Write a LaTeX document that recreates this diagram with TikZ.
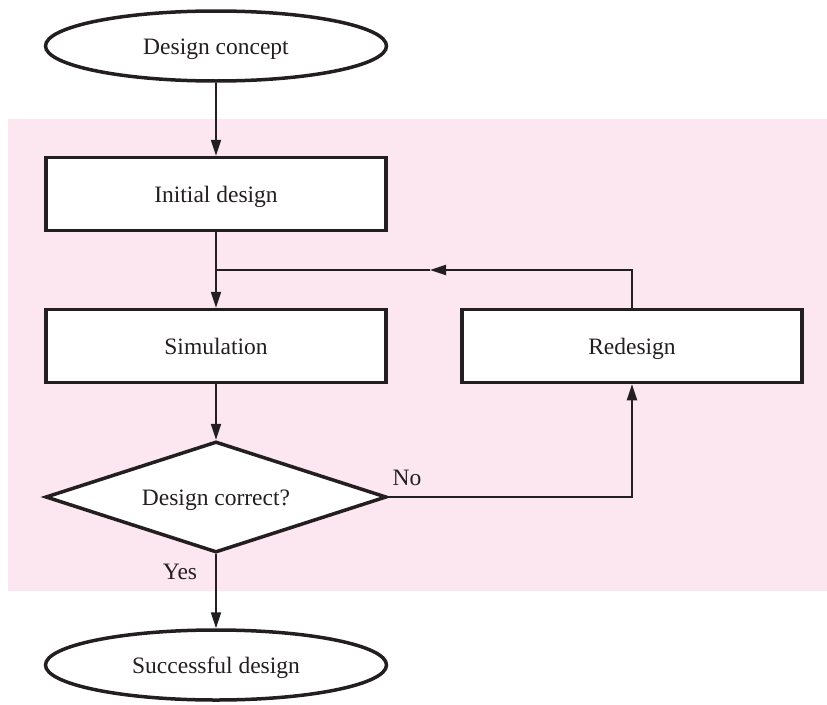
\documentclass[tikz,border=0pt]{standalone}
\usepackage{fontspec}
\setmainfont{Liberation Serif}
\usetikzlibrary{shapes.geometric,arrows.meta}
\definecolor{bgpink}{HTML}{FCE6EF}
\definecolor{ink}{HTML}{231F20}
\begin{document}
\begin{tikzpicture}[x=1pt,y=-1pt,
  every node/.style={font=\fontsize{23.5}{28}\selectfont, text=ink},
  shapetext/.style={text height=17pt, text depth=0pt},
  boxstyle/.style={shapetext, draw=ink, line width=3.5pt, fill=white, rectangle, minimum width=340pt, minimum height=73pt, inner sep=0pt},
  termstyle/.style={shapetext, draw=ink, line width=3.5pt, fill=white, ellipse, minimum width=341pt, minimum height=70pt, inner sep=0pt},
  decstyle/.style={shapetext, draw=ink, line width=3.5pt, fill=white, diamond, shape aspect=3.07, minimum width=341pt, minimum height=111pt, inner sep=0pt},
  arrowstyle/.style={draw=ink, line width=2pt, -{Triangle[length=16pt,width=10pt]}},
  linestyle/.style={draw=ink, line width=2pt},
  lbl/.style={text=ink, inner sep=0pt}
]
\useasboundingbox (0,0) rectangle (827,704);
\fill[bgpink] (8,119) rectangle (827,591);

\node[termstyle] (concept) at (216,46) {Design concept};
\node[boxstyle] (init) at (216,194) {Initial design};
\node[boxstyle] (sim) at (216,346) {Simulation};
\node[boxstyle] (red) at (632,346) {Redesign};
\node[decstyle] (dec) at (216,497) {Design correct?};
\node[termstyle] (succ) at (216,665) {Successful design};

\coordinate (fbl) at (216,270);
\coordinate (fbr) at (632,270);
\coordinate (fbm) at (430,270);
\coordinate (nor) at (632,497);

\draw[arrowstyle] (concept.south) -- (init.north);
\draw[arrowstyle] (init.south) -- (sim.north);
\draw[arrowstyle] (red.north) -- (fbr) -- (fbm);
\draw[linestyle] (fbm) -- (fbl);
\draw[arrowstyle] (sim.south) -- (dec.north);
\draw[arrowstyle] (dec.east) -- (nor) -- (red.south);
\draw[arrowstyle] (dec.south) -- (succ.north);

\node[lbl] (no) at (407,478) {No};
\node[lbl] (yes) at (180,572) {Yes};
\end{tikzpicture}
\end{document}
